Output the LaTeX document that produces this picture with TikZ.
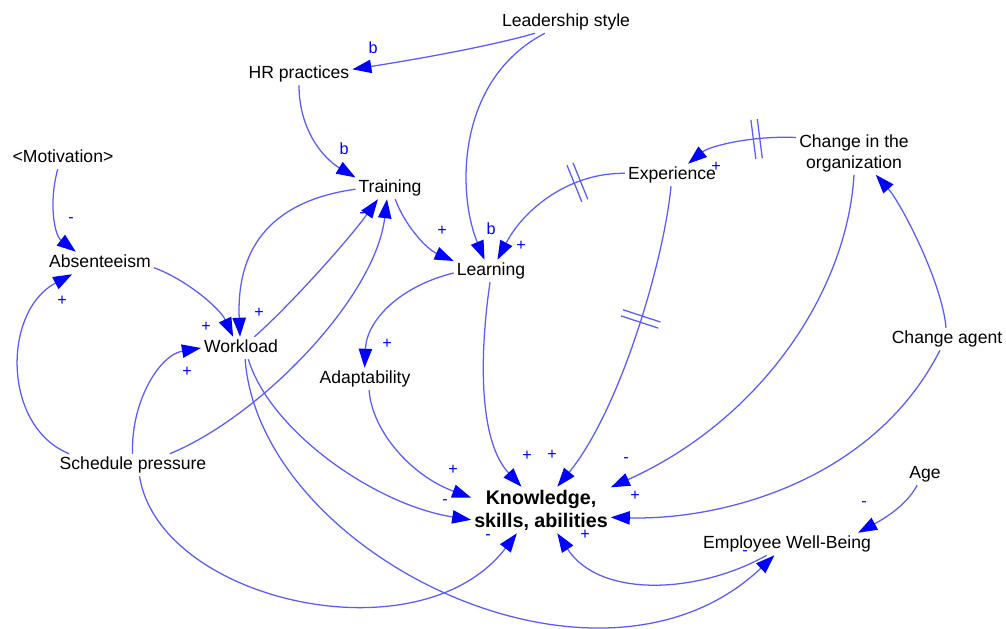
\documentclass[tikz,border=0pt]{standalone}
\usepackage{fontspec}
\setmainfont{Liberation Sans}
\usetikzlibrary{arrows.meta,decorations.markings}
\definecolor{linkblue}{RGB}{90,90,255}
\definecolor{signblue}{RGB}{0,0,255}
\tikzset{
  var/.style={inner sep=2pt, font=\fontsize{12.5}{15}\selectfont, text height=9pt, text depth=2.6pt},
  twoline/.style={inner sep=2pt, align=center, font=\fontsize{12.5}{14.9}\selectfont},
  stock/.style={inner sep=2pt, align=center, font=\fontsize{14}{16.4}\selectfont\bfseries},
  link/.style={draw=linkblue, line width=0.9pt, -{Triangle[length=13.5pt,width=9.5pt,color=signblue]}},
  sign/.style={text=signblue, inner sep=0pt, font=\fontsize{11.5}{13}\selectfont},
  delay/.style={postaction={decorate}, decoration={markings, mark=at position #1 with
    {\draw[-, linkblue, line width=0.9pt] (-2.3pt,-14pt) -- (-2.3pt,14pt) (2.3pt,-14pt) -- (2.3pt,14pt);}}}
}
\begin{document}
\begin{tikzpicture}[x=0.025cm, y=0.025cm]
  \useasboundingbox (0,0) rectangle (1006,-629);
  % Variables
  \node[var] (lead) at (566,-22) {Leadership style};
  \node[var] (hr) at (299,-74) {HR practices};
  \node[var] (motiv) at (63,-158) {<Motivation>};
  \node[var] (train) at (390,-188) {Training};
  \node[var] (exp) at (672,-175) {Experience};
  \node[twoline] (org) at (854,-153) {Change in the\\organization};
  \node[var] (absent) at (100,-263) {Absenteeism};
  \node[var] (learn) at (491,-271) {Learning};
  \node[var] (work) at (241,-348) {Workload};
  \node[var] (adapt) at (365,-379) {Adaptability};
  \node[var] (agent) at (947,-339) {Change agent};
  \node[var] (sched) at (133,-465) {Schedule pressure};
  \node[stock] (ksa) at (541,-510) {Knowledge,\\skills, abilities};
  \node[var] (age) at (925,-474) {Age};
  \node[var] (ewb) at (787,-544) {Employee Well-Being};
  % Links from the top
  \draw[link] (lead.200) .. controls +(-52,-15) and +(45,7) .. (hr.5);
  \draw[link] (lead.208) .. controls +(-90,-47) and +(-27,65) .. (learn.120);
  \draw[link] (hr.-90) .. controls +(0,-45) and +(-32,19) .. (train.163);
  \draw[link] (train.-65) .. controls +(10,-27) and +(-27,12) .. (learn.165);
  \draw[link, delay=0.3] (exp.178) .. controls +(-54,1) and +(27,52) .. (learn.60);
  \draw[link, delay=0.35] (org.165) .. controls +(-43,2) and +(22,18) .. (exp.35);
  \draw[link] (agent.95) .. controls +(-4,46) and +(25,-28) .. (org.-45);
  % Links on the left
  \draw[link] (motiv.-115) .. controls +(-9,-32) and +(-22,17) .. (absent.155);
  \draw[link] (absent.-5) .. controls +(33,-12) and +(-13,28) .. (work.125);
  \draw[link] (train.182) .. controls +(-79,-11) and +(-4,94) .. (work.95);
  \draw[link] (work.40) .. controls +(33,29) and +(-32,-44) .. (train.-137);
  \draw[link] (sched.17) .. controls +(90,37) and +(-12,-99) .. (train.-105);
  \draw[link] (sched.170) .. controls +(-67,27) and +(-70,-37) .. (absent.202);
  \draw[link] (sched.92) .. controls +(-2,51) and +(-42,-7) .. (work.180);
  \draw[link] (learn.183) .. controls +(-53,-13) and +(2,48) .. (adapt.92);
  % Links into Knowledge, skills, abilities
  \draw[link] (sched.-60) .. controls +(20,-125) and +(-97,-127) .. (ksa.-136);
  \draw[link] (work.-57) .. controls +(22,-72) and +(-96,15) .. (ksa.188);
  \draw[link] (adapt.-70) .. controls +(3,-41) and +(-60,22) .. (ksa.170);
  \draw[link] (learn.-95) .. controls +(-10,-68) and +(-44,47) .. (ksa.130);
  \draw[link, delay=0.42] (exp.-95) .. controls +(-7,-74) and +(63,77) .. (ksa.55);
  \draw[link] (org.-90) .. controls +(-7,-118) and +(149,67) .. (ksa.18);
  \draw[link] (agent.-122) .. controls +(-67,-132) and +(109,-3) .. (ksa.-6);
  \draw[link] (ewb.209) .. controls +(-67,-38) and +(43,-66) .. (ksa.-55);
  % Links into Employee Well-Being
  \draw[link] (work.-70) .. controls +(15,-196) and +(-175,-166) .. (ewb.222);
  \draw[link] (age.-125) .. controls +(-11,-21) and +(24,13) .. (ewb.9);
  % Polarity signs
  \node[sign] (s1) at (373,-48) {b};
  \node[sign] (s2) at (491,-229) {b};
  \node[sign] (s3) at (344,-149) {b};
  \node[sign] (s4) at (442,-231) {+};
  \node[sign] (s5) at (521,-246) {+};
  \node[sign] (s6) at (716,-167) {+};
  \node[sign] (s7) at (71,-220) {-};
  \node[sign] (s8) at (206,-327) {+};
  \node[sign] (s9) at (259,-313) {+};
  \node[sign] (s10) at (362,-215) {-};
  \node[sign] (s11) at (62,-301) {+};
  \node[sign] (s12) at (187,-372) {+};
  \node[sign] (s13) at (488,-537) {-};
  \node[sign] (s14) at (445,-502) {-};
  \node[sign] (s15) at (745,-553) {-};
  \node[sign] (s16) at (585,-535) {+};
  \node[sign] (s17) at (387,-344) {+};
  \node[sign] (s18) at (453,-470) {+};
  \node[sign] (s19) at (527,-456) {+};
  \node[sign] (s20) at (552,-455) {+};
  \node[sign] (s21) at (626,-460) {-};
  \node[sign] (s22) at (635,-496) {+};
  \node[sign] (s23) at (864,-504) {-};
\end{tikzpicture}
\end{document}
